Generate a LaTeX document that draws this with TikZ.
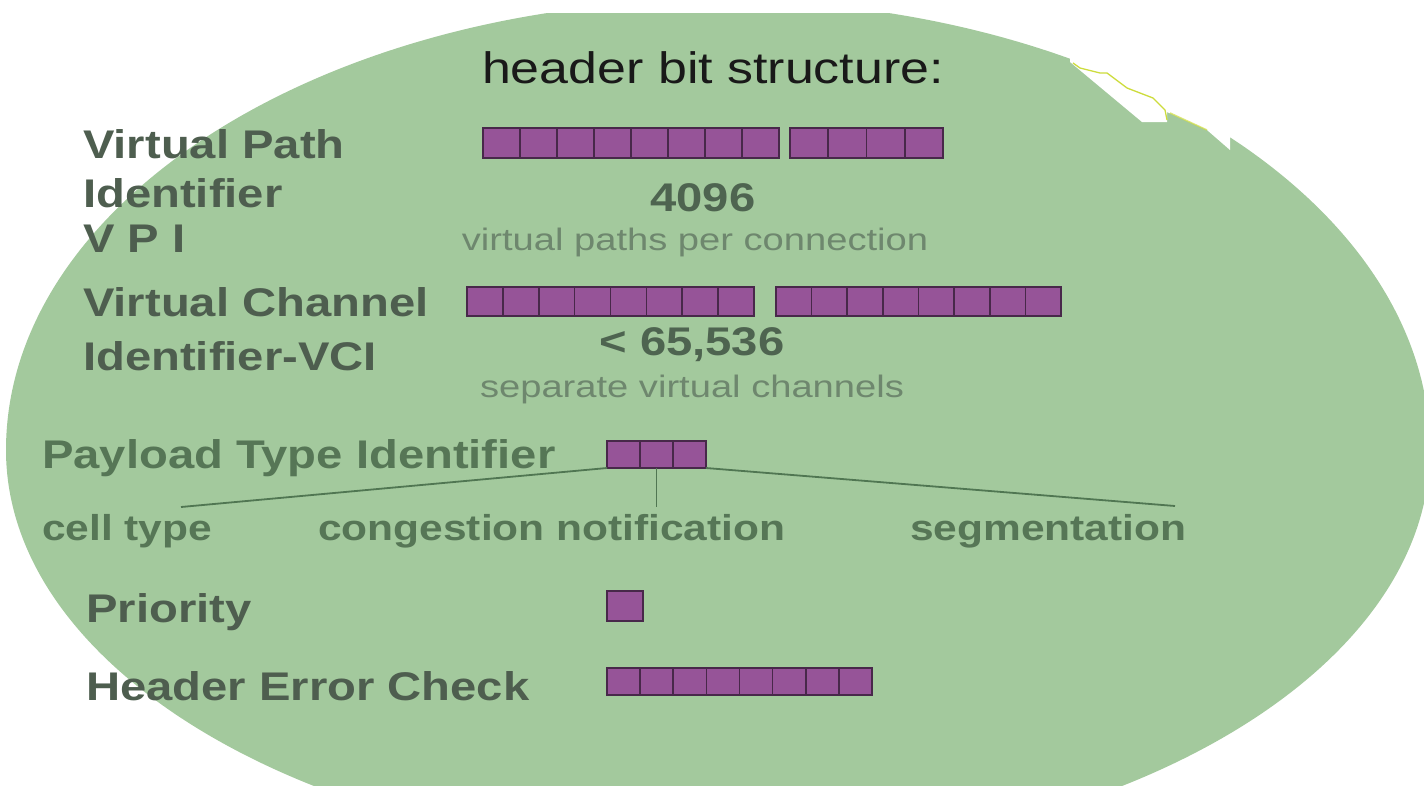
\documentclass[tikz,border=0pt]{standalone}
\usepackage{fontspec}
\setmainfont{Liberation Sans}
\newfontfamily\widesans[FakeStretch=1.18]{Liberation Sans}
\newfontfamily\widelight[FakeStretch=1.23]{Liberation Sans}
\usetikzlibrary{calc}

\definecolor{bubble}{RGB}{163,201,157}
\definecolor{labelgrey}{RGB}{78,94,79}
\definecolor{fieldgreen}{RGB}{86,118,86}
\definecolor{notegreen}{RGB}{110,135,110}
\definecolor{numgrey}{RGB}{78,100,80}
\definecolor{bitfill}{RGB}{150,84,152}
\definecolor{bitedge}{RGB}{72,40,74}
\definecolor{linkgreen}{RGB}{80,118,82}
\definecolor{scratch}{RGB}{205,220,60}

\tikzset{
  bits/.style={draw=bitedge, fill=bitfill, line width=1.6pt, inner sep=0pt, outer sep=0pt},
  divider/.style={draw=bitedge, line width=1.6pt},
  fieldlabel/.style={anchor=base west, inner sep=0pt, text=labelgrey,
    font=\widesans\bfseries\fontsize{40}{44}\selectfont},
  sublabel/.style={anchor=base west, inner sep=0pt, text=fieldgreen,
    font=\widesans\bfseries\fontsize{36}{40}\selectfont},
  countlabel/.style={anchor=base, inner sep=0pt, text=numgrey,
    font=\widesans\bfseries\fontsize{40}{44}\selectfont},
  notelabel/.style={anchor=base, inner sep=0pt, text=notegreen,
    font=\widelight\fontsize{31}{34}\selectfont},
  link/.style={draw=linkgreen, line width=1.8pt},
}

% a group of bit cells: name, left x, top y, width, height, number of cells
\newcommand\drawbits[6]{%
  \node[bits, minimum width=#4, minimum height=#5, anchor=north west] (#1) at (#2,#3) {};
  \ifnum#6>1
    \foreach \k in {1,...,\numexpr#6-1\relax}{%
      \draw[divider] ($(#1.north west)!\k/#6!(#1.north east)$) -- ($(#1.south west)!\k/#6!(#1.south east)$);
    }%
  \fi
}

\begin{document}
\begin{tikzpicture}[x=1pt,y=-1pt]
\useasboundingbox (0,0) rectangle (1424,785);

% green egg-shaped backdrop, flatter below than above
\begin{scope}
  \clip (0,13) rectangle (1424,450.5);
  \fill[bubble] (718,450) ellipse [x radius=712, y radius=450];
\end{scope}
\begin{scope}
  \clip (0,450) rectangle (1424,785);
  \fill[bubble] (718,450) ellipse [x radius=712, y radius=408];
\end{scope}

% torn edge at the upper right
\fill[white] (1070,30) -- (1070,62) -- (1100,87) -- (1142,122) -- (1167,122) -- (1167,112)
  -- (1207,130) -- (1230,150) -- (1230,137) -- (1300,150) -- (1300,30) -- cycle;
\draw[scratch, line width=1.3pt, line join=round]
  (1073,63) -- (1080,68) -- (1100,73) -- (1107,73) -- (1127,88) -- (1153,98) -- (1165,110) -- (1167,120);
\draw[scratch, line width=1.5pt, opacity=0.7] (1170,113) -- (1207,130);

% title
\node[anchor=base, inner sep=0pt, text=black!90,
  font=\widesans\fontsize{44}{48}\selectfont] (title) at (713,83) {header bit structure:};

% field names
\node[fieldlabel] (vpA) at (83,158) {Virtual Path};
\node[fieldlabel] (vpB) at (83,207) {Identifier};
\node[fieldlabel] (vpC) at (83,252) {V P I};
\node[fieldlabel] (vcA) at (83,316) {Virtual Channel};
\node[fieldlabel] (vcB) at (83,370) {Identifier-VCI};
\node[fieldlabel, text=fieldgreen] (pti) at (42,468) {Payload Type Identifier};
\node[fieldlabel] (prio) at (86,622) {Priority};
\node[fieldlabel] (hec) at (86,700) {Header Error Check};

% sub-fields of the payload type
\node[sublabel] (cell) at (42,540) {cell type};
\node[sublabel] (cong) at (318,540) {congestion notification};
\node[sublabel] (segm) at (910,540) {segmentation};

% counts and notes
\node[countlabel] (vpicount) at (703,211) {4096};
\node[notelabel] (vpinote) at (695,250) {virtual paths per connection};
\node[countlabel] (vcicount) at (692,355) {< 65,536};
\node[notelabel] (vcinote) at (692,397) {separate virtual channels};

% bit cells
\drawbits{vpiA}{483}{128}{296}{30}{8}
\drawbits{vpiB}{790}{128}{153}{30}{4}
\drawbits{vciA}{467}{287}{287}{29}{8}
\drawbits{vciB}{776}{287}{285}{29}{8}
\drawbits{ptiBits}{607}{441}{99}{27}{3}
\drawbits{prioBit}{607}{591}{36}{30}{1}
\drawbits{hecBits}{607}{668}{265}{27}{8}

% payload type breakdown
\coordinate (cellEnd) at (181,507);
\coordinate (segmEnd) at (1175,506);
\draw[link] (ptiBits.south west) -- (cellEnd);
\draw[link] (ptiBits.south) -- (ptiBits.south |- cellEnd);
\draw[link] (ptiBits.south east) -- (segmEnd);
\end{tikzpicture}
\end{document}
